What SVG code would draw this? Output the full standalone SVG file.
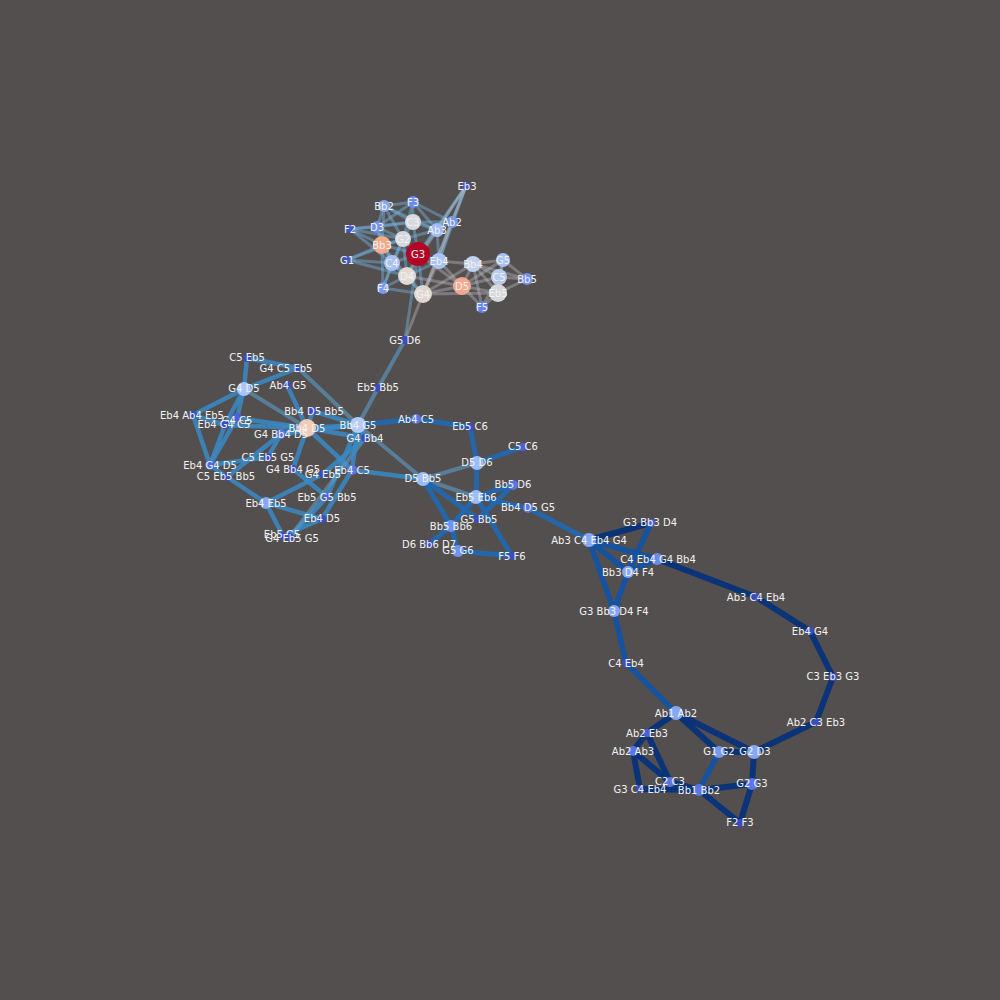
<svg xmlns="http://www.w3.org/2000/svg" width="1000" height="1000" viewBox="0 0 1000 1000">
<style>
text{font-family:"DejaVu Sans",sans-serif;font-size:10px;fill:#f2f2f2;text-anchor:middle;dominant-baseline:central}
line{stroke-linecap:round}
.t1{stroke:#70b4e0;stroke-opacity:.45;stroke-width:3}
.t2{stroke:#b8bcc4;stroke-opacity:.4;stroke-width:3}
.l{stroke:#3a8ac6;stroke-opacity:.85;stroke-width:4.5}
.l2{stroke:#5a9cc8;stroke-opacity:.6;stroke-width:4}
.m{stroke:#1f68b4;stroke-opacity:.9;stroke-width:5}
.r{stroke:#1552a0;stroke-width:5.5}
.rd{stroke:#0a3378;stroke-width:6}
</style>
<rect width="1000" height="1000" fill="#544f4f"/>
<g id="connectors">
<line class="t1" x1="384" y1="206" x2="413" y2="202"/>
<line class="t1" x1="384" y1="206" x2="377" y2="227"/>
<line class="t1" x1="384" y1="206" x2="413" y2="222"/>
<line class="t1" x1="384" y1="206" x2="403" y2="239"/>
<line class="t1" x1="384" y1="206" x2="382" y2="245"/>
<line class="t1" x1="384" y1="206" x2="437" y2="230"/>
<line class="t1" x1="413" y1="202" x2="413" y2="222"/>
<line class="t1" x1="413" y1="202" x2="377" y2="227"/>
<line class="t1" x1="413" y1="202" x2="452" y2="222"/>
<line class="t1" x1="413" y1="202" x2="437" y2="230"/>
<line class="t1" x1="413" y1="202" x2="403" y2="239"/>
<line class="t1" x1="350" y1="229" x2="377" y2="227"/>
<line class="t1" x1="350" y1="229" x2="382" y2="245"/>
<line class="t1" x1="350" y1="229" x2="403" y2="239"/>
<line class="t1" x1="350" y1="229" x2="413" y2="222"/>
<line class="t1" x1="350" y1="229" x2="392" y2="263"/>
<line class="t1" x1="377" y1="227" x2="403" y2="239"/>
<line class="t1" x1="377" y1="227" x2="382" y2="245"/>
<line class="t1" x1="377" y1="227" x2="392" y2="263"/>
<line class="t1" x1="377" y1="227" x2="413" y2="222"/>
<line class="t1" x1="382" y1="245" x2="347" y2="260"/>
<line class="t1" x1="382" y1="245" x2="392" y2="263"/>
<line class="t1" x1="382" y1="245" x2="403" y2="239"/>
<line class="t1" x1="382" y1="245" x2="407" y2="276"/>
<line class="t1" x1="382" y1="245" x2="383" y2="288"/>
<line class="t1" x1="382" y1="245" x2="418" y2="254"/>
<line class="t1" x1="347" y1="260" x2="392" y2="263"/>
<line class="t1" x1="347" y1="260" x2="403" y2="239"/>
<line class="t1" x1="347" y1="260" x2="407" y2="276"/>
<line class="t1" x1="403" y1="239" x2="413" y2="222"/>
<line class="t1" x1="403" y1="239" x2="418" y2="254"/>
<line class="t1" x1="403" y1="239" x2="392" y2="263"/>
<line class="t1" x1="403" y1="239" x2="437" y2="230"/>
<line class="t1" x1="403" y1="239" x2="407" y2="276"/>
<line class="t1" x1="392" y1="263" x2="383" y2="288"/>
<line class="t1" x1="392" y1="263" x2="407" y2="276"/>
<line class="t1" x1="392" y1="263" x2="418" y2="254"/>
<line class="t1" x1="392" y1="263" x2="423" y2="294"/>
<line class="t1" x1="383" y1="288" x2="407" y2="276"/>
<line class="t1" x1="383" y1="288" x2="423" y2="294"/>
<line class="t1" x1="383" y1="288" x2="403" y2="239"/>
<line class="t1" x1="407" y1="276" x2="423" y2="294"/>
<line class="t1" x1="407" y1="276" x2="418" y2="254"/>
<line class="t1" x1="407" y1="276" x2="439" y2="261"/>
<line class="t1" x1="418" y1="254" x2="437" y2="230"/>
<line class="t1" x1="418" y1="254" x2="439" y2="261"/>
<line class="t1" x1="418" y1="254" x2="413" y2="222"/>
<line class="t1" x1="418" y1="254" x2="423" y2="294"/>
<line class="t1" x1="413" y1="222" x2="437" y2="230"/>
<line class="t1" x1="413" y1="222" x2="452" y2="222"/>
<line class="t1" x1="437" y1="230" x2="452" y2="222"/>
<line class="t1" x1="437" y1="230" x2="439" y2="261"/>
<line class="t1" x1="452" y1="222" x2="439" y2="261"/>
<line class="t1" x1="466" y1="186" x2="437" y2="230"/>
<line class="t1" x1="466" y1="186" x2="439" y2="261"/>
<line class="t1" x1="466" y1="186" x2="452" y2="222"/>
<line class="t1" x1="466" y1="186" x2="418" y2="254"/>
<line class="t2" x1="466" y1="186" x2="423" y2="294"/>
<line class="t2" x1="466" y1="186" x2="407" y2="276"/>
<line class="t2" x1="452" y1="222" x2="423" y2="294"/>
<line class="t2" x1="439" y1="261" x2="473" y2="264"/>
<line class="t2" x1="439" y1="261" x2="462" y2="286"/>
<line class="t2" x1="439" y1="261" x2="423" y2="294"/>
<line class="t2" x1="423" y1="294" x2="462" y2="286"/>
<line class="t2" x1="423" y1="294" x2="473" y2="264"/>
<line class="t2" x1="423" y1="294" x2="498" y2="293"/>
<line class="t2" x1="418" y1="254" x2="462" y2="286"/>
<line class="t2" x1="407" y1="276" x2="462" y2="286"/>
<line class="t2" x1="462" y1="286" x2="473" y2="264"/>
<line class="t2" x1="462" y1="286" x2="503" y2="260"/>
<line class="t2" x1="462" y1="286" x2="499" y2="277"/>
<line class="t2" x1="462" y1="286" x2="498" y2="293"/>
<line class="t2" x1="462" y1="286" x2="482" y2="307"/>
<line class="t2" x1="473" y1="264" x2="503" y2="260"/>
<line class="t2" x1="473" y1="264" x2="499" y2="277"/>
<line class="t2" x1="473" y1="264" x2="498" y2="293"/>
<line class="t2" x1="473" y1="264" x2="482" y2="307"/>
<line class="t2" x1="473" y1="264" x2="527" y2="279"/>
<line class="t2" x1="503" y1="260" x2="499" y2="277"/>
<line class="t2" x1="503" y1="260" x2="527" y2="279"/>
<line class="t2" x1="503" y1="260" x2="498" y2="293"/>
<line class="t2" x1="499" y1="277" x2="527" y2="279"/>
<line class="t2" x1="499" y1="277" x2="498" y2="293"/>
<line class="t2" x1="498" y1="293" x2="527" y2="279"/>
<line class="t2" x1="498" y1="293" x2="482" y2="307"/>
<line class="t2" x1="482" y1="307" x2="499" y2="277"/>
<line class="t2" x1="423" y1="294" x2="405" y2="340"/>
<line class="t1" x1="418" y1="254" x2="405" y2="340"/>
<line class="l2" x1="405" y1="340" x2="378" y2="388"/>
<line class="l2" x1="378" y1="388" x2="358" y2="425"/>
<line class="l" x1="247" y1="358" x2="244" y2="389"/>
<line class="l" x1="247" y1="358" x2="298" y2="368"/>
<line class="l" x1="298" y1="368" x2="244" y2="389"/>
<line class="l2" x1="298" y1="368" x2="358" y2="425"/>
<line class="l" x1="287" y1="385" x2="307" y2="428"/>
<line class="l2" x1="244" y1="389" x2="307" y2="428"/>
<line class="l" x1="244" y1="389" x2="193" y2="415"/>
<line class="l" x1="244" y1="389" x2="237" y2="418"/>
<line class="l" x1="244" y1="389" x2="225" y2="425"/>
<line class="l" x1="193" y1="415" x2="210" y2="465"/>
<line class="l" x1="193" y1="415" x2="225" y2="425"/>
<line class="l" x1="225" y1="425" x2="307" y2="428"/>
<line class="l" x1="237" y1="418" x2="307" y2="428"/>
<line class="l" x1="237" y1="418" x2="210" y2="465"/>
<line class="l" x1="225" y1="425" x2="210" y2="465"/>
<line class="l" x1="307" y1="428" x2="358" y2="425"/>
<line class="l" x1="307" y1="428" x2="313" y2="411"/>
<line class="l" x1="313" y1="411" x2="358" y2="425"/>
<line class="l" x1="307" y1="428" x2="281" y2="434"/>
<line class="l" x1="307" y1="428" x2="365" y2="438"/>
<line class="l" x1="307" y1="428" x2="293" y2="469"/>
<line class="l" x1="307" y1="428" x2="352" y2="470"/>
<line class="l" x1="281" y1="434" x2="268" y2="457"/>
<line class="l" x1="281" y1="434" x2="358" y2="425"/>
<line class="l" x1="268" y1="457" x2="210" y2="465"/>
<line class="l" x1="210" y1="465" x2="227" y2="477"/>
<line class="l" x1="227" y1="477" x2="266" y2="503"/>
<line class="l" x1="227" y1="477" x2="281" y2="434"/>
<line class="l" x1="266" y1="503" x2="323" y2="474"/>
<line class="l" x1="266" y1="503" x2="283" y2="536"/>
<line class="l" x1="266" y1="503" x2="322" y2="519"/>
<line class="l" x1="283" y1="536" x2="322" y2="519"/>
<line class="l" x1="290" y1="537" x2="327" y2="497"/>
<line class="l" x1="327" y1="497" x2="358" y2="425"/>
<line class="l" x1="322" y1="519" x2="352" y2="470"/>
<line class="l" x1="293" y1="469" x2="327" y2="497"/>
<line class="l" x1="358" y1="425" x2="365" y2="438"/>
<line class="l2" x1="365" y1="438" x2="290" y2="537"/>
<line class="l" x1="365" y1="438" x2="323" y2="474"/>
<line class="l" x1="358" y1="425" x2="352" y2="470"/>
<line class="l2" x1="358" y1="425" x2="423" y2="479"/>
<line class="l" x1="352" y1="470" x2="423" y2="479"/>
<line class="m" x1="358" y1="425" x2="416" y2="419"/>
<line class="m" x1="416" y1="419" x2="470" y2="427"/>
<line class="m" x1="470" y1="427" x2="477" y2="463"/>
<line class="m" x1="477" y1="463" x2="523" y2="447"/>
<line class="l2" x1="477" y1="463" x2="423" y2="479"/>
<line class="m" x1="477" y1="463" x2="476" y2="497"/>
<line class="l2" x1="423" y1="479" x2="476" y2="497"/>
<line class="m" x1="423" y1="479" x2="451" y2="526"/>
<line class="m" x1="423" y1="479" x2="478" y2="519"/>
<line class="m" x1="476" y1="497" x2="513" y2="485"/>
<line class="m" x1="476" y1="497" x2="528" y2="508"/>
<line class="m" x1="476" y1="497" x2="451" y2="526"/>
<line class="m" x1="476" y1="497" x2="512" y2="556"/>
<line class="m" x1="513" y1="485" x2="478" y2="519"/>
<line class="m" x1="451" y1="526" x2="429" y2="544"/>
<line class="m" x1="451" y1="526" x2="458" y2="551"/>
<line class="m" x1="458" y1="551" x2="512" y2="556"/>
<line class="m" x1="528" y1="508" x2="589" y2="540"/>
<line class="rd" x1="589" y1="540" x2="651" y2="523"/>
<line class="r" x1="589" y1="540" x2="657" y2="559"/>
<line class="r" x1="589" y1="540" x2="628" y2="572"/>
<line class="r" x1="589" y1="540" x2="614" y2="611"/>
<line class="r" x1="651" y1="523" x2="628" y2="572"/>
<line class="r" x1="657" y1="559" x2="628" y2="572"/>
<line class="r" x1="628" y1="572" x2="614" y2="611"/>
<line class="rd" x1="657" y1="559" x2="756" y2="597"/>
<line class="rd" x1="756" y1="597" x2="810" y2="631"/>
<line class="rd" x1="810" y1="631" x2="833" y2="677"/>
<line class="rd" x1="833" y1="677" x2="816" y2="722"/>
<line class="rd" x1="816" y1="722" x2="754" y2="752"/>
<line class="r" x1="614" y1="611" x2="626" y2="663"/>
<line class="r" x1="626" y1="663" x2="676" y2="713"/>
<line class="rd" x1="676" y1="713" x2="647" y2="733"/>
<line class="rd" x1="676" y1="713" x2="719" y2="752"/>
<line class="rd" x1="676" y1="713" x2="754" y2="752"/>
<line class="rd" x1="647" y1="733" x2="633" y2="751"/>
<line class="rd" x1="647" y1="733" x2="670" y2="782"/>
<line class="rd" x1="633" y1="751" x2="640" y2="789"/>
<line class="rd" x1="633" y1="751" x2="670" y2="782"/>
<line class="rd" x1="670" y1="782" x2="699" y2="790"/>
<line class="rd" x1="640" y1="789" x2="699" y2="790"/>
<line class="rd" x1="719" y1="752" x2="754" y2="752"/>
<line class="r" x1="719" y1="752" x2="699" y2="790"/>
<line class="rd" x1="699" y1="790" x2="752" y2="784"/>
<line class="rd" x1="699" y1="790" x2="740" y2="823"/>
<line class="rd" x1="754" y1="752" x2="752" y2="784"/>
<line class="rd" x1="752" y1="784" x2="740" y2="823"/>
</g>
<g id="nodes">
<g id="Eb3"><circle cx="466" cy="186" r="4" fill="#4358d0"/><text x="467" y="186">Eb3</text></g>
<g id="Bb2"><circle cx="384" cy="206" r="6" fill="#8aa8f2"/><text x="384" y="206">Bb2</text></g>
<g id="F3"><circle cx="413" cy="202" r="6" fill="#6a8cee"/><text x="413" y="202">F3</text></g>
<g id="C3"><circle cx="413" cy="222" r="8" fill="#d8dadf"/><text x="413" y="222">C3</text></g>
<g id="Ab2"><circle cx="452" cy="222" r="6" fill="#7898f0"/><text x="452" y="222">Ab2</text></g>
<g id="Ab3"><circle cx="437" cy="230" r="7" fill="#a0bcf6"/><text x="437" y="230">Ab3</text></g>
<g id="D3"><circle cx="377" cy="227" r="6" fill="#7090f0"/><text x="377" y="227">D3</text></g>
<g id="F2"><circle cx="350" cy="229" r="4" fill="#3c54d0"/><text x="350" y="229">F2</text></g>
<g id="G2"><circle cx="403" cy="239" r="8" fill="#d5d8dc"/><text x="403" y="239">G2</text></g>
<g id="Bb3"><circle cx="382" cy="245" r="9" fill="#f4aa8a"/><text x="382" y="245">Bb3</text></g>
<g id="G3"><circle cx="418" cy="254" r="12" fill="#b40426"/><text x="418" y="254">G3</text></g>
<g id="G1"><circle cx="347" cy="260" r="4" fill="#3c54d0"/><text x="347" y="260">G1</text></g>
<g id="C4"><circle cx="392" cy="263" r="8" fill="#a8c0f5"/><text x="392" y="263">C4</text></g>
<g id="Eb4"><circle cx="439" cy="261" r="8" fill="#a8c4f5"/><text x="439" y="261">Eb4</text></g>
<g id="Bb4"><circle cx="473" cy="264" r="8" fill="#c2d2ee"/><text x="473" y="264">Bb4</text></g>
<g id="G5"><circle cx="503" cy="260" r="7" fill="#a8c0f4"/><text x="503" y="260">G5</text></g>
<g id="C5"><circle cx="499" cy="277" r="8" fill="#b8ccee"/><text x="499" y="277">C5</text></g>
<g id="Bb5"><circle cx="527" cy="279" r="6" fill="#7090f0"/><text x="527" y="279">Bb5</text></g>
<g id="D4"><circle cx="407" cy="276" r="9" fill="#e2dad5"/><text x="407" y="276">D4</text></g>
<g id="D5"><circle cx="462" cy="286" r="9" fill="#f4a88e"/><text x="462" y="286">D5</text></g>
<g id="Eb5"><circle cx="498" cy="293" r="9" fill="#d5d8dc"/><text x="498" y="293">Eb5</text></g>
<g id="F4"><circle cx="383" cy="288" r="6" fill="#7a9af0"/><text x="383" y="288">F4</text></g>
<g id="G4"><circle cx="423" cy="294" r="9" fill="#e0d8d0"/><text x="423" y="294">G4</text></g>
<g id="F5"><circle cx="482" cy="307" r="6" fill="#6484ec"/><text x="482" y="307">F5</text></g>
<g id="G5D6"><circle cx="405" cy="340" r="4" fill="#3b4cc0"/><text x="405" y="340">G5 D6</text></g>
<g id="Eb5Bb5"><circle cx="378" cy="388" r="4" fill="#3b4cc0"/><text x="378" y="387">Eb5 Bb5</text></g>
<g id="C5Eb5"><circle cx="247" cy="358" r="4" fill="#3b4cc0"/><text x="247" y="357">C5 Eb5</text></g>
<g id="G4C5Eb5"><circle cx="298" cy="368" r="4" fill="#3b4cc0"/><text x="286" y="368">G4 C5 Eb5</text></g>
<g id="G4D5"><circle cx="244" cy="389" r="7" fill="#aac5fb"/><text x="244" y="388">G4 D5</text></g>
<g id="Ab4G5"><circle cx="287" cy="385" r="4" fill="#3b4cc0"/><text x="288" y="385">Ab4 G5</text></g>
<g id="Eb4Ab4Eb5"><circle cx="193" cy="415" r="4" fill="#3b4cc0"/><text x="192" y="415">Eb4 Ab4 Eb5</text></g>
<g id="G4C5"><circle cx="237" cy="418" r="5" fill="#4a62d6"/><text x="237" y="420">G4 C5</text></g>
<g id="Eb4G4C5"><circle cx="225" cy="425" r="4" fill="#3b4cc0"/><text x="224" y="424">Eb4 G4 C5</text></g>
<g id="Bb4D5Bb5"><circle cx="313" cy="411" r="4" fill="#3b4cc0"/><text x="314" y="411">Bb4 D5 Bb5</text></g>
<g id="Bb4D5"><circle cx="307" cy="428" r="9" fill="#f2cbb7"/><text x="307" y="428">Bb4 D5</text></g>
<g id="Bb4G5"><circle cx="358" cy="425" r="8" fill="#b4cbf6"/><text x="358" y="425">Bb4 G5</text></g>
<g id="G4Bb4"><circle cx="365" cy="438" r="4" fill="#3b4cc0"/><text x="365" y="438">G4 Bb4</text></g>
<g id="G4Bb4D5"><circle cx="281" cy="434" r="5" fill="#5a76e2"/><text x="281" y="434">G4 Bb4 D5</text></g>
<g id="C5Eb5G5"><circle cx="268" cy="457" r="4" fill="#3b4cc0"/><text x="268" y="457">C5 Eb5 G5</text></g>
<g id="Eb4G4D5"><circle cx="210" cy="465" r="5" fill="#4f6cdc"/><text x="210" y="465">Eb4 G4 D5</text></g>
<g id="C5Eb5Bb5"><circle cx="227" cy="477" r="4" fill="#3b4cc0"/><text x="226" y="476">C5 Eb5 Bb5</text></g>
<g id="G4Bb4G5"><circle cx="293" cy="469" r="4" fill="#3b4cc0"/><text x="293" y="469">G4 Bb4 G5</text></g>
<g id="G4Eb5"><circle cx="323" cy="474" r="4" fill="#3b4cc0"/><text x="323" y="474">G4 Eb5</text></g>
<g id="Eb4C5"><circle cx="352" cy="470" r="5" fill="#5a76e2"/><text x="352" y="470">Eb4 C5</text></g>
<g id="Eb5G5Bb5"><circle cx="327" cy="497" r="4" fill="#4a62d6"/><text x="327" y="497">Eb5 G5 Bb5</text></g>
<g id="Eb4Eb5"><circle cx="266" cy="503" r="6" fill="#86a8f4"/><text x="266" y="503">Eb4 Eb5</text></g>
<g id="Eb4D5"><circle cx="322" cy="519" r="4" fill="#3b4cc0"/><text x="322" y="518">Eb4 D5</text></g>
<g id="Eb5G5"><circle cx="283" cy="536" r="4" fill="#3b4cc0"/><text x="282" y="534">Eb5 G5</text></g>
<g id="G4Eb5G5"><circle cx="290" cy="537" r="4" fill="#3b4cc0"/><text x="292" y="538">G4 Eb5 G5</text></g>
<g id="Ab4C5"><circle cx="416" cy="419" r="5" fill="#5a76e2"/><text x="416" y="419">Ab4 C5</text></g>
<g id="Eb5C6"><circle cx="470" cy="427" r="4" fill="#3b4cc0"/><text x="470" y="426">Eb5 C6</text></g>
<g id="C5C6"><circle cx="523" cy="447" r="4" fill="#4a62d6"/><text x="523" y="446">C5 C6</text></g>
<g id="D5D6"><circle cx="477" cy="463" r="7" fill="#9dbdf8"/><text x="477" y="462">D5 D6</text></g>
<g id="D5Bb5"><circle cx="423" cy="479" r="7" fill="#9dbdf8"/><text x="423" y="478">D5 Bb5</text></g>
<g id="Bb5D6"><circle cx="513" cy="485" r="5" fill="#5a76e2"/><text x="513" y="484">Bb5 D6</text></g>
<g id="Eb5Eb6"><circle cx="476" cy="497" r="7" fill="#9dbdf8"/><text x="476" y="497">Eb5 Eb6</text></g>
<g id="Bb4D5G5"><circle cx="528" cy="508" r="5" fill="#5a76e2"/><text x="528" y="507">Bb4 D5 G5</text></g>
<g id="G5Bb5"><circle cx="478" cy="519" r="4" fill="#3b4cc0"/><text x="479" y="519">G5 Bb5</text></g>
<g id="Bb5Bb6"><circle cx="451" cy="526" r="6" fill="#7093f3"/><text x="451" y="526">Bb5 Bb6</text></g>
<g id="D6Bb6D7"><circle cx="429" cy="544" r="4" fill="#3b4cc0"/><text x="429" y="544">D6 Bb6 D7</text></g>
<g id="G5G6"><circle cx="458" cy="551" r="6" fill="#7093f3"/><text x="458" y="550">G5 G6</text></g>
<g id="F5F6"><circle cx="512" cy="556" r="4" fill="#3b4cc0"/><text x="512" y="556">F5 F6</text></g>
<g id="G3Bb3D4"><circle cx="651" cy="523" r="4" fill="#4a62d6"/><text x="650" y="522">G3 Bb3 D4</text></g>
<g id="Ab3C4Eb4G4"><circle cx="589" cy="540" r="7" fill="#86a8f4"/><text x="589" y="540">Ab3 C4 Eb4 G4</text></g>
<g id="C4Eb4G4Bb4"><circle cx="657" cy="559" r="6" fill="#6a8cee"/><text x="658" y="559">C4 Eb4 G4 Bb4</text></g>
<g id="Bb3D4F4"><circle cx="628" cy="572" r="6" fill="#86a8f4"/><text x="628" y="572">Bb3 D4 F4</text></g>
<g id="G3Bb3D4F4"><circle cx="614" cy="611" r="6" fill="#86a8f4"/><text x="614" y="611">G3 Bb3 D4 F4</text></g>
<g id="Ab3C4Eb4"><circle cx="756" cy="597" r="4" fill="#3b4cc0"/><text x="756" y="597">Ab3 C4 Eb4</text></g>
<g id="Eb4G4"><circle cx="810" cy="631" r="4" fill="#3b4cc0"/><text x="810" y="631">Eb4 G4</text></g>
<g id="C3Eb3G3"><circle cx="833" cy="677" r="4" fill="#3b4cc0"/><text x="833" y="676">C3 Eb3 G3</text></g>
<g id="C4Eb4"><circle cx="626" cy="663" r="4" fill="#3b4cc0"/><text x="626" y="663">C4 Eb4</text></g>
<g id="Ab1Ab2"><circle cx="676" cy="713" r="7" fill="#86a8f4"/><text x="676" y="713">Ab1 Ab2</text></g>
<g id="Ab2C3Eb3"><circle cx="816" cy="722" r="4" fill="#3b4cc0"/><text x="816" y="722">Ab2 C3 Eb3</text></g>
<g id="Ab2Eb3"><circle cx="647" cy="733" r="4" fill="#4a62d6"/><text x="647" y="733">Ab2 Eb3</text></g>
<g id="Ab2Ab3"><circle cx="633" cy="751" r="5" fill="#5a76e2"/><text x="633" y="751">Ab2 Ab3</text></g>
<g id="G1G2"><circle cx="719" cy="752" r="6" fill="#7898f0"/><text x="719" y="751">G1 G2</text></g>
<g id="G2D3"><circle cx="754" cy="752" r="7" fill="#86a8f4"/><text x="755" y="751">G2 D3</text></g>
<g id="C2C3"><circle cx="670" cy="782" r="5" fill="#5a76e2"/><text x="670" y="781">C2 C3</text></g>
<g id="G3C4Eb4"><circle cx="640" cy="789" r="4" fill="#3b4cc0"/><text x="640" y="789">G3 C4 Eb4</text></g>
<g id="Bb1Bb2"><circle cx="699" cy="790" r="6" fill="#5a76e2"/><text x="699" y="790">Bb1 Bb2</text></g>
<g id="G2G3"><circle cx="752" cy="784" r="6" fill="#5a76e2"/><text x="752" y="783">G2 G3</text></g>
<g id="F2F3"><circle cx="740" cy="823" r="4" fill="#3b4cc0"/><text x="740" y="822">F2 F3</text></g>
</g>
</svg>
